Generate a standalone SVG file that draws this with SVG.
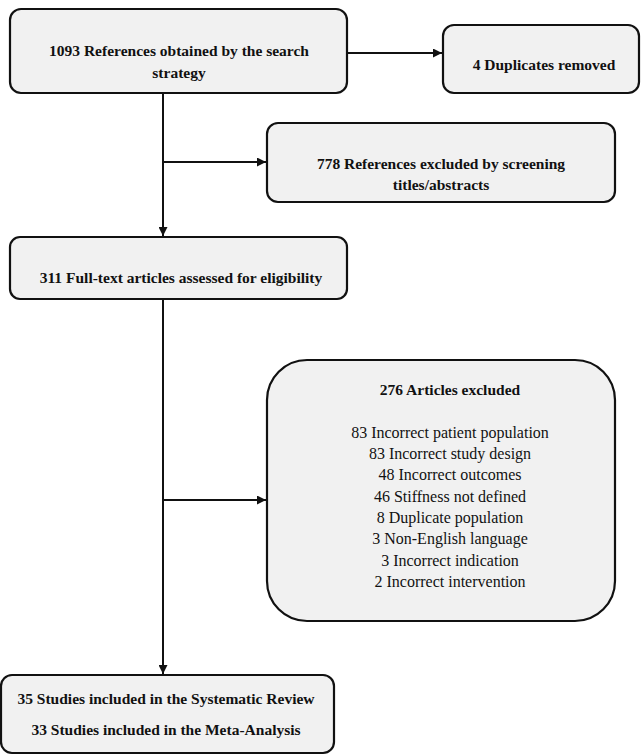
<svg xmlns="http://www.w3.org/2000/svg" width="642" height="755" viewBox="0 0 642 755">
<style>
.box{fill:#f1f1f1;stroke:#111;stroke-width:2.2}
text{font-family:'Liberation Serif','DejaVu Serif','Times New Roman',serif;font-size:15.5px;fill:#111;text-anchor:middle}
.b{font-weight:bold}
.r{font-size:16px}
.c{fill:none;stroke:#111;stroke-width:2}
</style>
<defs>
<marker id="ah" viewBox="0 0 10 10" refX="10" refY="5" markerWidth="9" markerHeight="9" markerUnits="userSpaceOnUse" orient="auto">
<path d="M0,0 L10,5 L0,10 Z" fill="#111"/>
</marker>
</defs>
<rect width="642" height="755" fill="#fff"/>
<g id="connectors">
<line class="c" x1="347" y1="53" x2="442" y2="53" marker-end="url(#ah)"/>
<line class="c" x1="163" y1="93" x2="163" y2="236" marker-end="url(#ah)"/>
<line class="c" x1="163" y1="162" x2="266" y2="162" marker-end="url(#ah)"/>
<line class="c" x1="163" y1="299" x2="163" y2="674" marker-end="url(#ah)"/>
<line class="c" x1="163" y1="500" x2="266" y2="500" marker-end="url(#ah)"/>
</g>
<g id="n1">
<rect class="box" x="10" y="9" width="337" height="84" rx="11"/>
<text class="b" x="179" y="56">1093 References obtained by the search</text>
<text class="b" x="179" y="78">strategy</text>
</g>
<g id="n2">
<rect class="box" x="443" y="25" width="196" height="68" rx="11"/>
<text class="b" x="544" y="70">4 Duplicates removed</text>
</g>
<g id="n3">
<rect class="box" x="267" y="123" width="348" height="79" rx="11"/>
<text class="b" x="441" y="169">778 References excluded by screening</text>
<text class="b" x="441" y="190">titles/abstracts</text>
</g>
<g id="n4">
<rect class="box" x="10" y="237" width="337" height="62" rx="10"/>
<text class="b" x="181" y="283">311 Full-text articles assessed for eligibility</text>
</g>
<g id="n5">
<rect class="box" x="267" y="360" width="348" height="261" rx="40"/>
<text class="b" x="450" y="395">276 Articles excluded</text>
<text class="r" x="450" y="438">83 Incorrect patient population</text>
<text class="r" x="450" y="459">83 Incorrect study design</text>
<text class="r" x="450" y="480">48 Incorrect outcomes</text>
<text class="r" x="450" y="502">46 Stiffness not defined</text>
<text class="r" x="450" y="523">8 Duplicate population</text>
<text class="r" x="450" y="544">3 Non-English language</text>
<text class="r" x="450" y="566">3 Incorrect indication</text>
<text class="r" x="450" y="587">2 Incorrect intervention</text>
</g>
<g id="n6">
<rect class="box" x="1" y="675" width="333" height="78" rx="11"/>
<text class="b" x="166" y="704">35 Studies included in the Systematic Review</text>
<text class="b" x="166" y="735">33 Studies included in the Meta-Analysis</text>
</g>
</svg>
